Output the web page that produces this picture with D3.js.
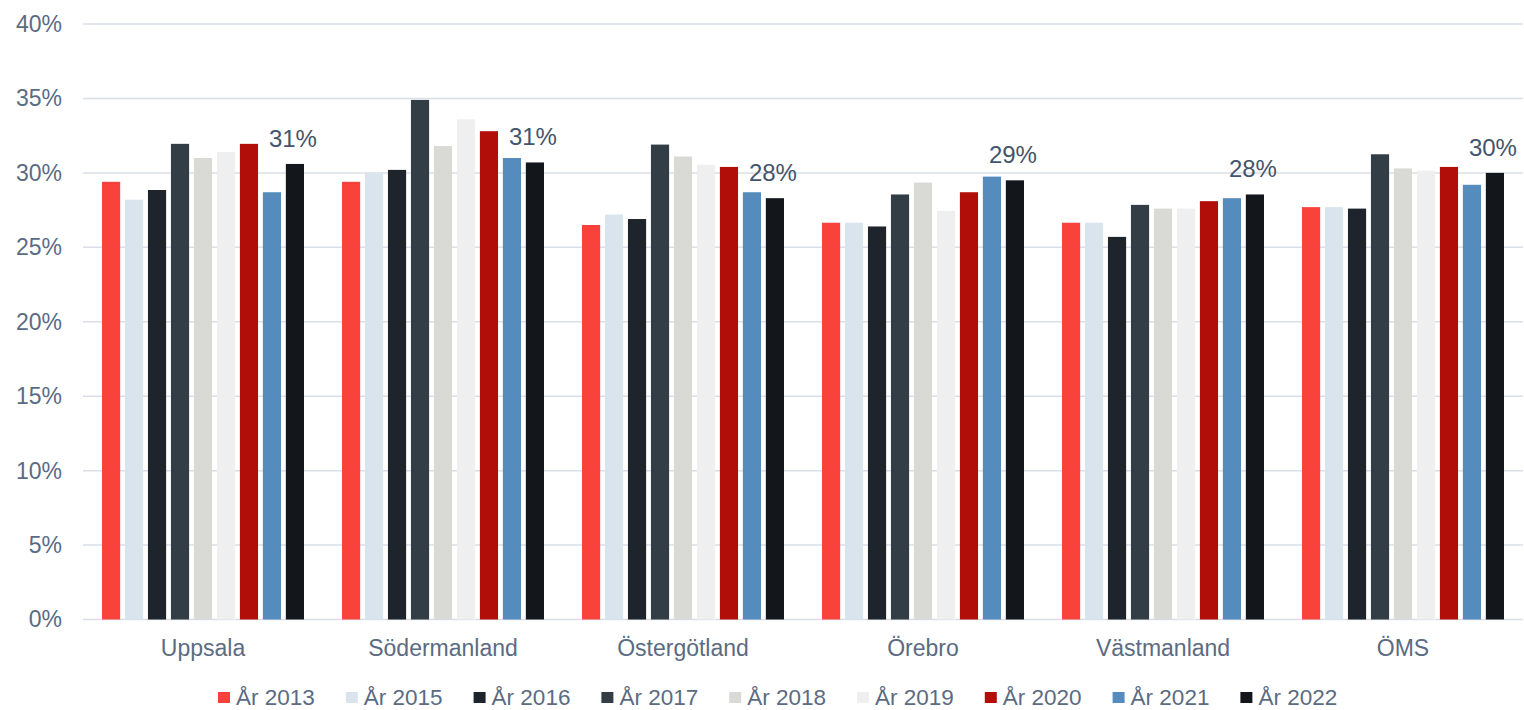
<!DOCTYPE html>
<meta charset="utf-8">
<style>
body { margin: 0; background: #fff; }
text { font-family: "Liberation Sans", Arial, sans-serif; }
</style>
<body>
<script src="https://d3js.org/d3.v7.min.js"></script>
<script>

// data
var regions = ["Uppsala", "Södermanland", "Östergötland", "Örebro", "Västmanland", "ÖMS"];
var years = ["År 2013", "År 2015", "År 2016", "År 2017", "År 2018", "År 2019", "År 2020", "År 2021", "År 2022"];
var colors = ["#fa423c", "#d9e4ef", "#1e242b", "#333d46", "#d9d9d5", "#efefef", "#b20e09", "#568bbe", "#13171b"];

// one row per region, one value per year (percent)
var values = [
  [29.4, 28.2, 28.85, 31.95, 31.0, 31.4, 31.95, 28.7, 30.6],   // Uppsala
  [29.4, 30.0, 30.2, 34.9, 31.8, 33.6, 32.8, 31.0, 30.7],      // Södermanland
  [26.5, 27.2, 26.9, 31.9, 31.1, 30.55, 30.4, 28.7, 28.3],     // Östergötland
  [26.65, 26.65, 26.4, 28.55, 29.35, 27.45, 28.7, 29.75, 29.5],// Örebro
  [26.65, 26.65, 25.7, 27.85, 27.6, 27.6, 28.1, 28.3, 28.55],  // Västmanland
  [27.7, 27.7, 27.6, 31.25, 30.3, 30.15, 30.4, 29.2, 30.0]     // ÖMS
];
var labels = ["31%", "31%", "28%", "29%", "28%", "30%"];
var yTicks = [0, 5, 10, 15, 20, 25, 30, 35, 40];

var width = 1524, height = 710;

var svg = d3.select("body")
  .append("svg")
    .attr("width", width)
    .attr("height", height);

//scales
var x0 = d3.scaleBand()
    .domain(regions)
    .range([83, 1523]);

var x1 = d3.scaleBand()
    .domain(years)
    .range([19, 221])
    .paddingInner(0.21);

var y = d3.scaleLinear()
    .domain([0, 40])
    .range([619.5, 24]);

//grid
svg.append("g")
  .selectAll("line")
  .data(yTicks)
  .enter()
  .append("line")
    .attr("x1", 83)
    .attr("x2", 1523)
    .attr("y1", d => y(d))
    .attr("y2", d => y(d))
    .style("stroke", "#d9dee7")
    .style("stroke-width", 1.5);

//y axis labels
var yAxis = svg.append("g")
  .attr("transform", "translate(62,0)")
  .call(d3.axisLeft(y).tickValues(yTicks).tickFormat(d => d + "%").tickSize(0).tickPadding(0));
yAxis.select(".domain").remove();
yAxis.selectAll("text")
  .style("font-size", "23px")
  .style("fill", "#5b6b82")
  .style("font-family", "'Liberation Sans', Arial, sans-serif");

//bars
var groups = svg.selectAll(".gRegion")
  .data(regions)
  .enter()
  .append("g")
    .attr("class", "gRegion")
    .attr("transform", d => `translate(${x0(d)},0)`);

groups.selectAll("rect")
    .data((d, i) => values[i].map((v, j) => ({year: years[j], value: v, color: colors[j]})))
  .enter()
  .append("rect")
    .attr("x", d => x1(d.year))
    .attr("y", d => y(d.value))
    .attr("width", x1.bandwidth())
    .attr("height", d => y(0) - y(d.value))
    .style("fill", d => d.color);

//value labels over last bar
groups.append("text")
    .attr("x", x1(years[years.length - 1]) + x1.bandwidth() / 2 - 2)
    .attr("y", (d, i) => y(values[i][years.length - 1]) - 17)
    .attr("text-anchor", "middle")
    .style("font-size", "24px")
    .style("fill", "#44546a")
    .text((d, i) => labels[i]);

//x axis labels
var xAxis = svg.append("g")
  .attr("transform", "translate(0,640)")
  .call(d3.axisBottom(x0).tickSize(0).tickPadding(0));
xAxis.select(".domain").remove();
xAxis.selectAll("text")
  .style("font-size", "23px")
  .style("fill", "#5b6b82")
  .style("font-family", "'Liberation Sans', Arial, sans-serif");

//legend
var legend = svg.append("g")
  .attr("transform", "translate(218,692)");

var legendItem = legend.selectAll("g")
  .data(years)
  .enter()
  .append("g")
    .attr("transform", (d, i) => `translate(${i * 127.8},0)`);

legendItem.append("rect")
    .attr("width", 12)
    .attr("height", 11)
    .style("fill", (d, i) => colors[i]);

legendItem.append("text")
    .attr("x", 18)
    .attr("y", 13)
    .style("font-size", "22.5px")
    .style("fill", "#5b6b82")
    .text(d => d);

</script>
</body>
</html>
